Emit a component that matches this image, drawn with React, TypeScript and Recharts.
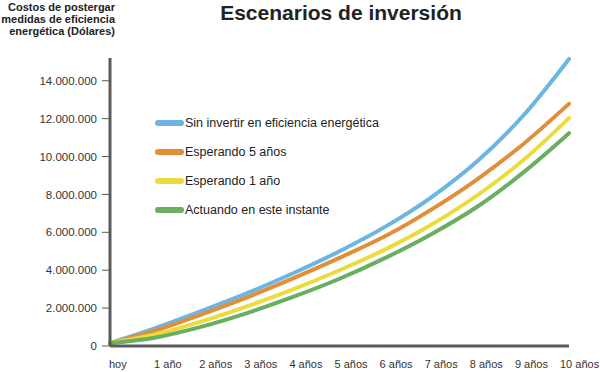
import React from 'react';
import { LineChart, Line, XAxis, YAxis, Legend } from 'recharts';

const years = ['hoy', '1 año', '2 años', '3 años', '4 años', '5 años', '6 años', '7 años', '8 años', '9 años', '10 años'];
const sinInvertir = [150000, 950000, 1850000, 2800000, 3850000, 5000000, 6300000, 7850000, 9750000, 12150000, 15150000];
const esperando5 = [150000, 820000, 1670000, 2580000, 3580000, 4650000, 5800000, 7200000, 8800000, 10650000, 12780000];
const esperando1 = [150000, 620000, 1300000, 2100000, 3000000, 4000000, 5100000, 6400000, 7950000, 9800000, 12030000];
const actuando = [150000, 450000, 1020000, 1750000, 2600000, 3550000, 4650000, 5900000, 7350000, 9150000, 11230000];
const yTicks = [0, 2000000, 4000000, 6000000, 8000000, 10000000, 12000000, 14000000];

const series = [
  { key: 'sin', name: 'Sin invertir en eficiencia energética', color: '#6cb5e2' },
  { key: 'e5', name: 'Esperando 5 años', color: '#e18e38' },
  { key: 'e1', name: 'Esperando 1 año', color: '#ecdb3d' },
  { key: 'act', name: 'Actuando en este instante', color: '#6aae62' },
];

const data = years.map((label, i) => ({
  label,
  sin: sinInvertir[i],
  e5: esperando5[i],
  e1: esperando1[i],
  act: actuando[i],
}));

const FONT = '"Liberation Sans", Arial, Helvetica, sans-serif';
const AXIS = '#5a5a5a';

// 14000000 -> "14.000.000"
const fmt = (v: number) => String(v).replace(/\B(?=(\d{3})+(?!\d))/g, '.');

function XTick({ x, index, payload }: any) {
  return (
    <text x={x - 1 - index * 0.8} y={368} textAnchor="start" fontSize={11} fill="#333" fontFamily={FONT}>
      {payload.value}
    </text>
  );
}

function LegendBox() {
  return (
    <div style={{ fontFamily: FONT, fontSize: 12.5, color: '#222' }}>
      {series.map((s) => (
        <div key={s.key} style={{ display: 'flex', alignItems: 'center', height: 29 }}>
          <svg width={30} height={8}>
            <line x1={4} y1={4} x2={27} y2={4} stroke={s.color} strokeWidth={6} strokeLinecap="round" />
          </svg>
          <span style={{ marginLeft: 1 }}>{s.name}</span>
        </div>
      ))}
    </div>
  );
}

export default function App() {
  return (
    <div style={{ position: 'absolute', left: 0, top: 0, width: 600, height: 372, background: '#fff' }}>
      <LineChart width={600} height={372} data={data} margin={{ top: 58, right: 31, bottom: 0, left: 0 }}>
        <text x={341} y={20} textAnchor="middle" fontSize={21} fontWeight="bold" fill="#222" fontFamily={FONT}>
          Escenarios de inversión
        </text>
        <text textAnchor="end" fontSize={11} fontWeight="bold" fill="#222" fontFamily={FONT}>
          <tspan x={115} y={11}>Costos de postergar</tspan>
          <tspan x={115} y={23}>medidas de eficiencia</tspan>
          <tspan x={115} y={35}>energética (Dólares)</tspan>
        </text>
        <XAxis
          dataKey="label"
          height={26}
          tickLine={false}
          axisLine={{ stroke: AXIS, strokeWidth: 3 }}
          tick={<XTick />}
          interval={0}
        />
        <YAxis
          width={110}
          domain={[0, 15200000]}
          ticks={yTicks}
          tickFormatter={fmt}
          tickSize={8}
          tickMargin={5}
          tickLine={{ stroke: AXIS, strokeWidth: 1 }}
          axisLine={{ stroke: AXIS, strokeWidth: 3 }}
          tick={{ fontSize: 11.5, fill: '#333', fontFamily: FONT }}
        />
        <Legend
          layout="horizontal"
          verticalAlign="middle"
          align="center"
          content={<LegendBox />}
          wrapperStyle={{ position: 'absolute', top: 108, left: 154, width: 260 }}
        />
        {series.map((s) => (
          <Line
            key={s.key}
            type="monotone"
            dataKey={s.key}
            name={s.name}
            stroke={s.color}
            strokeWidth={4}
            strokeLinecap="round"
            dot={false}
            activeDot={false}
            isAnimationActive={false}
          />
        ))}
      </LineChart>
    </div>
  );
}
